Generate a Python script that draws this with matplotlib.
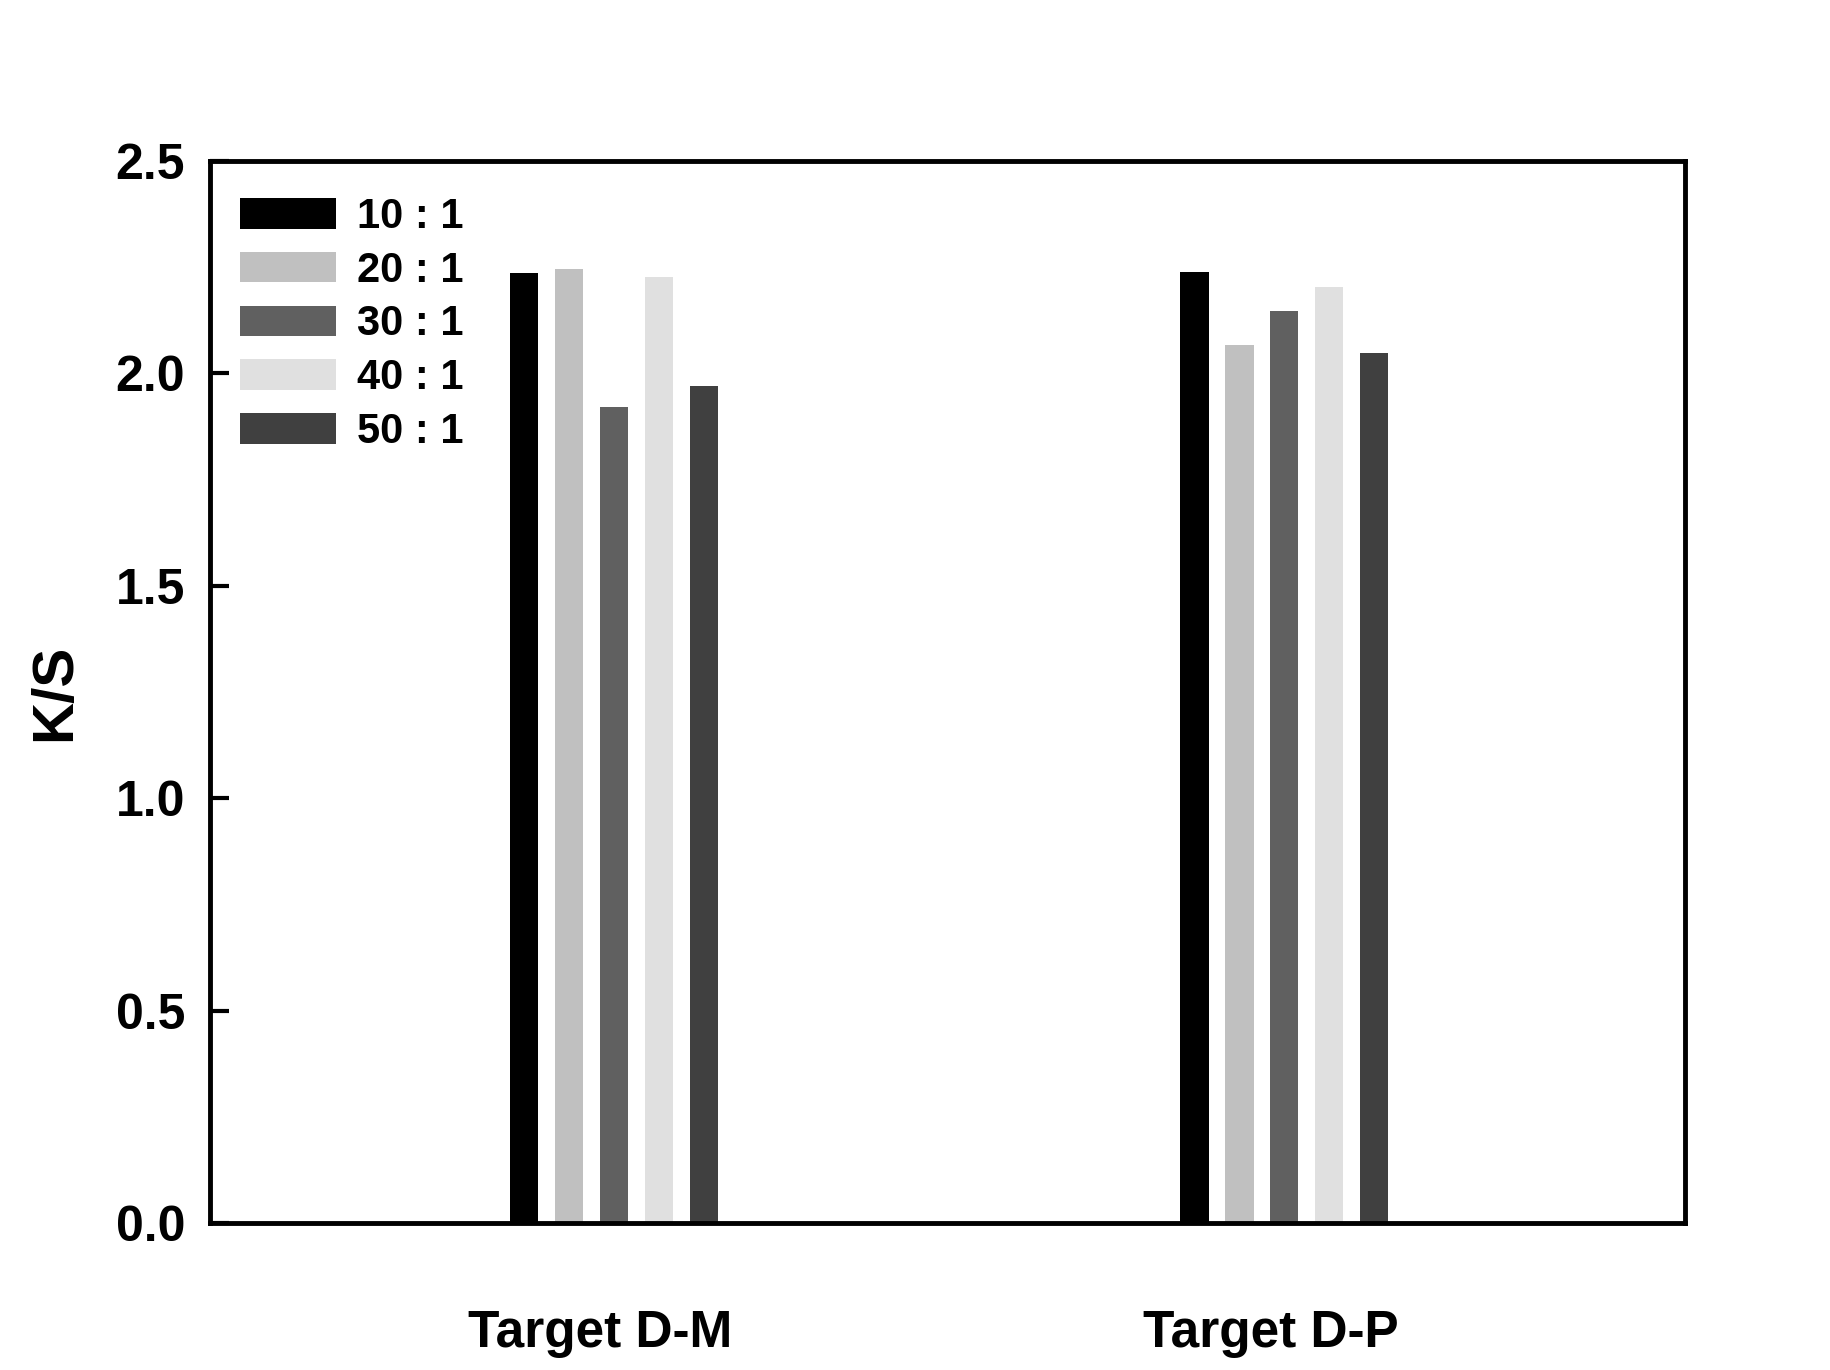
import numpy as np
import matplotlib.pyplot as plt

# data
groups = ['Target D-M', 'Target D-P']
ratios = ['10 : 1', '20 : 1', '30 : 1', '40 : 1', '50 : 1']
ks_dm = [2.236, 2.245, 1.920, 2.228, 1.970]
ks_dp = [2.239, 2.066, 2.146, 2.203, 2.049]
colors = ['#000000', '#c0c0c0', '#606060', '#e0e0e0', '#404040']

plt.rcParams['font.family'] = ['Liberation Sans', 'DejaVu Sans']
plt.rcParams['font.weight'] = 'bold'

fig = plt.figure(figsize=(18.3, 13.7), dpi=100)
ax = fig.add_axes([0.1148, 0.1073, 0.8062, 0.7752])

x = np.arange(len(groups))
step = 0.067
width = 0.042
for i, lab in enumerate(ratios):
    vals = [ks_dm[i], ks_dp[i]]
    ax.bar(x + (i - 2) * step, vals, width=width, color=colors[i], label=lab)

ax.set_xlim(-0.602, 1.598)
ax.set_ylim(0, 2.5)
ax.set_yticks([0, 0.5, 1.0, 1.5, 2.0, 2.5])
ax.set_yticklabels(['0.0', '0.5', '1.0', '1.5', '2.0', '2.5'])
ax.set_xticks(x - 0.02)
ax.set_xticklabels(groups, fontsize=37, fontweight='bold')
ax.tick_params(axis='x', length=0, pad=62)
ax.tick_params(axis='y', direction='in', length=14, width=3, labelsize=36, pad=18)
for s in ax.spines.values():
    s.set_linewidth(3.5)

ax.set_ylabel('K/S', fontsize=42, fontweight='bold', labelpad=24)

ax.legend(loc='upper left', bbox_to_anchor=(0.012, 0.978), frameon=False,
          fontsize=30, handlelength=2.3, handleheight=0.75, handletextpad=0.5,
          labelspacing=0.33, borderaxespad=0, borderpad=0.3)

fig.savefig('out.png', dpi=100)
